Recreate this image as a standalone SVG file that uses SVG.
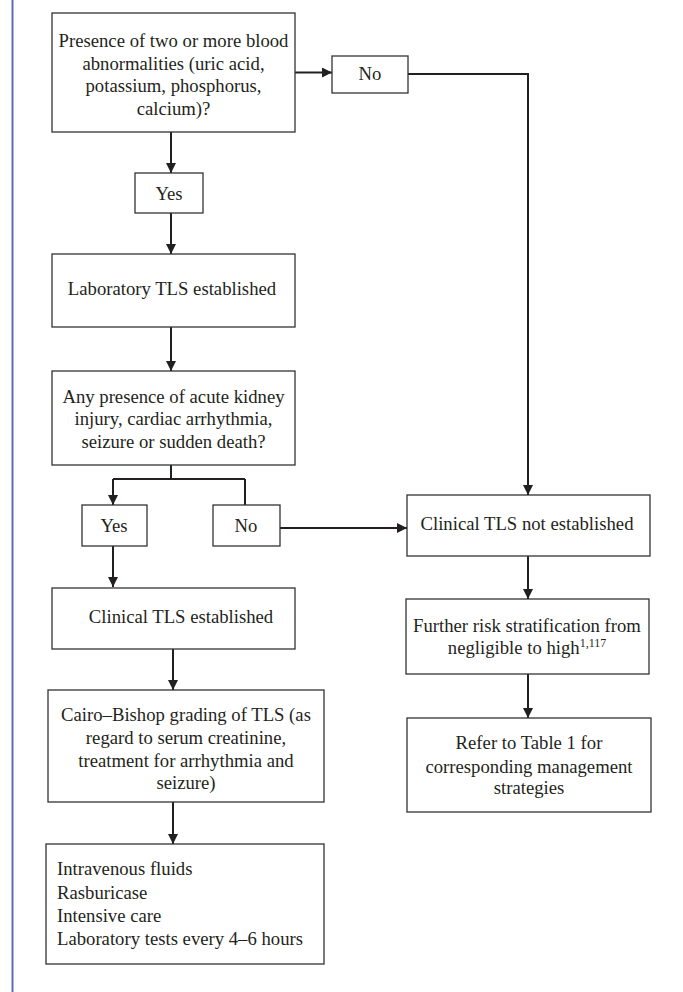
<svg xmlns="http://www.w3.org/2000/svg" width="683" height="992" viewBox="0 0 683 992">
<defs>
<marker id="ah" viewBox="0 0 10 10" refX="10" refY="5" markerWidth="5" markerHeight="5" orient="auto" markerUnits="strokeWidth">
<path d="M0,0 L10,5 L0,10 z" fill="#231f20"/>
</marker>
<style>
.box{fill:#fff;stroke:#333;stroke-width:1.3}
.t{font-family:"Liberation Serif","Times New Roman",serif;font-size:18.7px;fill:#231f20;text-anchor:middle}
.tl{font-family:"Liberation Serif","Times New Roman",serif;font-size:18.7px;fill:#231f20}
.c{fill:none;stroke:#231f20;stroke-width:2}
.a{fill:none;stroke:#231f20;stroke-width:2;marker-end:url(#ah)}
</style>
</defs>
<rect width="683" height="992" fill="#fff"/>
<line x1="12.5" y1="0" x2="12.5" y2="992" stroke="#5b6fbe" stroke-width="2"/>
<g id="connectors">
<path class="a" d="M295,72.5 H332"/>
<path class="c" d="M408,74 H528 V480"/>
<path class="a" d="M528,480 V495"/>
<path class="a" d="M171,132 V173"/>
<path class="a" d="M171,213 V254"/>
<path class="a" d="M171,327 V371"/>
<path class="c" d="M171,465 V479 M113,479 H245 M245,479 V505"/>
<path class="a" d="M113,479 V505"/>
<path class="a" d="M280,528 H407"/>
<path class="a" d="M113,546 V587"/>
<path class="a" d="M173,649 V690"/>
<path class="a" d="M173,802 V844"/>
<path class="a" d="M528,556 V599"/>
<path class="a" d="M528,674 V718"/>
</g>
<g id="n1"><rect class="box" x="52" y="13" width="243" height="119"/>
<text class="t" x="173.5" y="47">Presence of two or more blood</text>
<text class="t" x="173.5" y="70">abnormalities (uric acid,</text>
<text class="t" x="173.5" y="92">potassium, phosphorus,</text>
<text class="t" x="173.5" y="115">calcium)?</text></g>
<g id="no1"><rect class="box" x="332" y="56" width="76" height="37"/>
<text class="t" x="370" y="80">No</text></g>
<g id="yes1"><rect class="box" x="135" y="173" width="68" height="40"/>
<text class="t" x="169" y="200">Yes</text></g>
<g id="lab"><rect class="box" x="52" y="254" width="243" height="73"/>
<text class="t" x="172" y="295">Laboratory TLS established</text></g>
<g id="any"><rect class="box" x="52" y="371" width="243" height="94"/>
<text class="t" x="173.5" y="403">Any presence of acute kidney</text>
<text class="t" x="173.5" y="425">injury, cardiac arrhythmia,</text>
<text class="t" x="173.5" y="448">seizure or sudden death?</text></g>
<g id="yes2"><rect class="box" x="82" y="505" width="65" height="41"/>
<text class="t" x="114" y="532">Yes</text></g>
<g id="no2"><rect class="box" x="213" y="505" width="67" height="41"/>
<text class="t" x="246" y="532">No</text></g>
<g id="clin"><rect class="box" x="52" y="588" width="243" height="61"/>
<text class="t" x="181" y="623">Clinical TLS established</text></g>
<g id="cairo"><rect class="box" x="48" y="690" width="276" height="112"/>
<text class="t" x="186" y="721">Cairo–Bishop grading of TLS (as</text>
<text class="t" x="186" y="744">regard to serum creatinine,</text>
<text class="t" x="186" y="767">treatment for arrhythmia and</text>
<text class="t" x="186" y="789">seizure)</text></g>
<g id="mgmt"><rect class="box" x="46" y="844" width="278" height="120"/>
<text class="tl" x="57" y="875">Intravenous fluids</text>
<text class="tl" x="57" y="899">Rasburicase</text>
<text class="tl" x="57" y="922">Intensive care</text>
<text class="tl" x="57" y="945">Laboratory tests every 4–6 hours</text></g>
<g id="notest"><rect class="box" x="407" y="495" width="243" height="61"/>
<text class="t" x="527" y="530">Clinical TLS not established</text></g>
<g id="further"><rect class="box" x="406" y="599" width="243" height="75"/>
<text class="t" x="527" y="632">Further risk stratification from</text>
<text class="t" x="527" y="654">negligible to high<tspan font-size="12" dy="-7">1,117</tspan></text></g>
<g id="refer"><rect class="box" x="407" y="718" width="244" height="94"/>
<text class="t" x="529" y="749">Refer to Table 1 for</text>
<text class="t" x="529" y="773">corresponding management</text>
<text class="t" x="529" y="794">strategies</text></g>
</svg>
